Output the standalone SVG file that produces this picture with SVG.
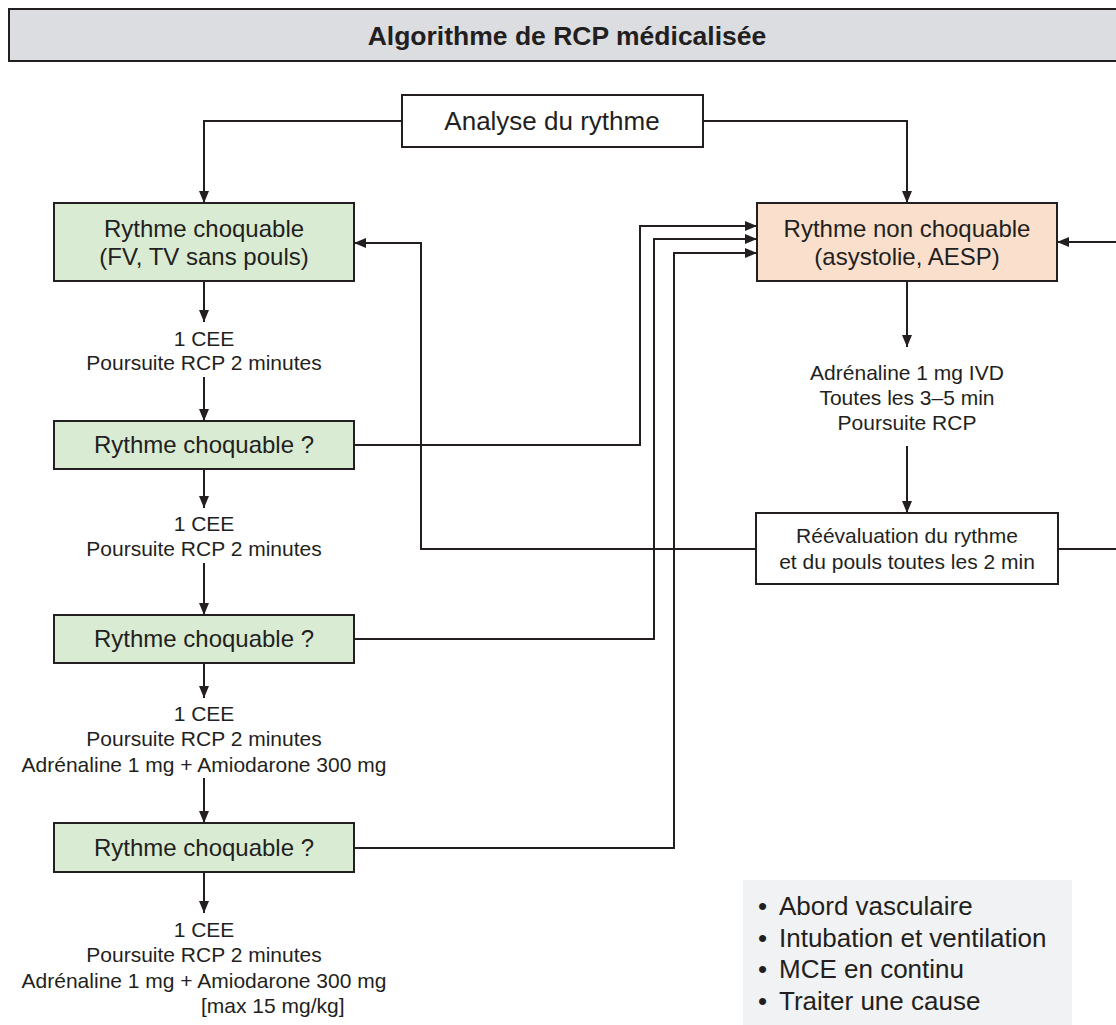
<svg xmlns="http://www.w3.org/2000/svg" width="1116" height="1025" viewBox="0 0 1116 1025">
<defs>
<marker id="arr" markerUnits="userSpaceOnUse" markerWidth="13" markerHeight="10" refX="12" refY="5" orient="auto">
<path d="M0,0 L12,5 L0,10 z" fill="#231f20"/>
</marker>
<style>
text{font-family:"Liberation Sans",Arial,sans-serif;fill:#231f20;text-anchor:middle}
.box{stroke:#231f20;stroke-width:2}
.green{fill:#d9ebd3}
.peach{fill:#fadfcc}
.white{fill:#ffffff}
.t24{font-size:24px}
.t26{font-size:26px}
.t21{font-size:21px}
.conn path{fill:none;stroke:#231f20;stroke-width:2;marker-end:url(#arr)}
</style>
</defs>
<rect width="1116" height="1025" fill="#ffffff"/>

<g id="title">
<rect x="9" y="9" width="1120" height="52" fill="#dcdde0" stroke="#231f20" stroke-width="2"/>
<text x="567" y="45" style="font-size:26.5px;font-weight:bold">Algorithme de RCP médicalisée</text>
</g>

<g class="conn" id="connectors">
<path d="M402,121 H204 V203"/>
<path d="M703,121 H907 V203"/>
<path d="M204,281 V322"/>
<path d="M204,377 V421"/>
<path d="M204,469 V508"/>
<path d="M204,563 V615"/>
<path d="M204,663 V698"/>
<path d="M204,778 V823"/>
<path d="M204,872 V913"/>
<path d="M354,445 H640 V226 H757"/>
<path d="M354,639 H654 V239 H757"/>
<path d="M354,848 H674 V253 H757"/>
<path d="M907,281 V347"/>
<path d="M907,446 V513"/>
<path d="M756,549 H421 V243 H354"/>
<path d="M1058,549 H1124 V242 H1057"/>
</g>

<g id="analyse">
<rect class="box white" x="402" y="95" width="301" height="52"/>
<text class="t26" x="552" y="130">Analyse du rythme</text>
</g>

<g id="choquable">
<rect class="box green" x="54" y="203" width="300" height="78"/>
<text class="t24" x="204" y="237">Rythme choquable</text>
<text class="t24" x="204" y="265">(FV, TV sans pouls)</text>
</g>

<g id="non-choquable">
<rect class="box peach" x="757" y="203" width="300" height="78"/>
<text class="t24" x="907" y="237">Rythme non choquable</text>
<text class="t24" x="907" y="265">(asystolie, AESP)</text>
</g>

<g id="label1">
<text class="t21" x="204" y="346">1 CEE</text>
<text class="t21" x="204" y="370">Poursuite RCP 2 minutes</text>
</g>

<g id="question1">
<rect class="box green" x="54" y="421" width="300" height="48"/>
<text class="t24" x="204" y="453">Rythme choquable ?</text>
</g>

<g id="label2">
<text class="t21" x="204" y="531">1 CEE</text>
<text class="t21" x="204" y="556">Poursuite RCP 2 minutes</text>
</g>

<g id="question2">
<rect class="box green" x="54" y="615" width="300" height="48"/>
<text class="t24" x="204" y="647">Rythme choquable ?</text>
</g>

<g id="label3">
<text class="t21" x="204" y="721">1 CEE</text>
<text class="t21" x="204" y="746">Poursuite RCP 2 minutes</text>
<text class="t21" x="204" y="772">Adrénaline 1 mg + Amiodarone 300 mg</text>
</g>

<g id="question3">
<rect class="box green" x="54" y="823" width="300" height="49"/>
<text class="t24" x="204" y="856">Rythme choquable ?</text>
</g>

<g id="label4">
<text class="t21" x="204" y="937">1 CEE</text>
<text class="t21" x="204" y="962">Poursuite RCP 2 minutes</text>
<text class="t21" x="204" y="988">Adrénaline 1 mg + Amiodarone 300 mg</text>
<text class="t21" x="201" y="1013" style="text-anchor:start">[max 15 mg/kg]</text>
</g>

<g id="label-adrenaline">
<text class="t21" x="907" y="380">Adrénaline 1 mg IVD</text>
<text class="t21" x="907" y="405">Toutes les 3–5 min</text>
<text class="t21" x="907" y="430">Poursuite RCP</text>
</g>

<g id="reevaluation">
<rect class="box white" x="756" y="513" width="302" height="71"/>
<text class="t21" x="907" y="543">Réévaluation du rythme</text>
<text class="t21" x="907" y="569">et du pouls toutes les 2 min</text>
</g>

<g id="actions">
<rect x="743" y="880" width="329" height="150" fill="#f1f2f3"/>
<text class="t26" style="text-anchor:start" y="915"><tspan x="758">•</tspan><tspan x="779">Abord vasculaire</tspan></text>
<text class="t26" style="text-anchor:start" y="947"><tspan x="758">•</tspan><tspan x="779">Intubation et ventilation</tspan></text>
<text class="t26" style="text-anchor:start" y="978"><tspan x="758">•</tspan><tspan x="779">MCE en continu</tspan></text>
<text class="t26" style="text-anchor:start" y="1010"><tspan x="758">•</tspan><tspan x="779">Traiter une cause</tspan></text>
</g>
</svg>
